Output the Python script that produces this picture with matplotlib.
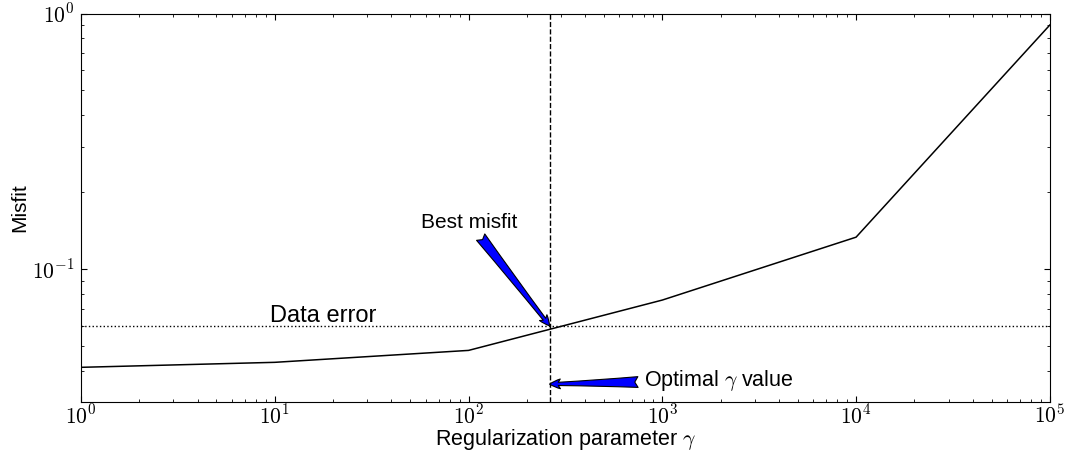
import matplotlib
matplotlib.use("Agg")
import matplotlib.pyplot as plt
from matplotlib.ticker import LogLocator, FuncFormatter, NullFormatter
import numpy as np

plt.rcParams['font.family'] = ['Liberation Sans', 'DejaVu Sans']
plt.rcParams['mathtext.fontset'] = 'cm'

# Data
gamma = [1, 10, 100, 1000, 1e4, 1e5]
misfit = [0.0413, 0.0432, 0.0481, 0.0757, 0.1334, 0.902]
data_error = 0.06
gamma_opt = 262
best_text_pos = (57, 0.152)
opt_text_pos = (800, 0.0368)
opt_arrow_y = 0.0355

fig = plt.figure(figsize=(10.77, 4.51), dpi=100)
ax = fig.add_axes([0.0752, 0.1093, 0.9748 - 0.0752, 0.970 - 0.1093])

ax.loglog(gamma, misfit, color='black', lw=1.1)
ax.axhline(data_error, color='black', ls=':', lw=1.0)
ax.axvline(gamma_opt, color='black', ls='--', lw=1.0)

ax.set_xlim(1, 1e5)
ax.set_ylim(0.0303, 1)

fmt = FuncFormatter(lambda v, p: r'$10^{%d}$' % int(round(np.log10(v))))
ax.xaxis.set_major_locator(LogLocator(base=10, numticks=10))
ax.yaxis.set_major_locator(LogLocator(base=10, numticks=10))
ax.xaxis.set_major_formatter(fmt)
ax.yaxis.set_major_formatter(fmt)
ax.xaxis.set_minor_locator(LogLocator(base=10, subs=np.arange(2, 10), numticks=50))
ax.yaxis.set_minor_locator(LogLocator(base=10, subs=np.arange(2, 10), numticks=50))
ax.xaxis.set_minor_formatter(NullFormatter())
ax.yaxis.set_minor_formatter(NullFormatter())
ax.tick_params(which='both', direction='in', top=True, right=True, labelsize=15.5)
ax.tick_params(which='major', length=4, width=0.8, pad=5)
ax.tick_params(axis='x', which='major', pad=2)
ax.tick_params(which='minor', length=2.5, width=0.6)

ax.set_xlabel(r'Regularization parameter $\gamma$', fontsize=15.5, labelpad=-1)
ax.set_ylabel('Misfit', fontsize=15, labelpad=2)

ax.text(9.4, 0.0621, 'Data error', fontsize=17, ha='left', va='baseline')

ax.annotate('Best misfit', xy=(gamma_opt, data_error), xytext=best_text_pos,
            fontsize=15, ha='left', va='center',
            arrowprops=dict(arrowstyle='fancy,head_length=0.5,head_width=0.45,tail_width=0.5',
                            fc='blue', ec='black', lw=0.8, shrinkB=0))
ax.annotate(r'Optimal $\gamma$ value', xy=(gamma_opt, opt_arrow_y), xytext=opt_text_pos,
            fontsize=15.5, ha='left', va='center',
            arrowprops=dict(arrowstyle='fancy,head_length=0.5,head_width=0.45,tail_width=0.5',
                            fc='blue', ec='black', lw=0.8, shrinkB=0))

fig.savefig('out.png', dpi=100)
